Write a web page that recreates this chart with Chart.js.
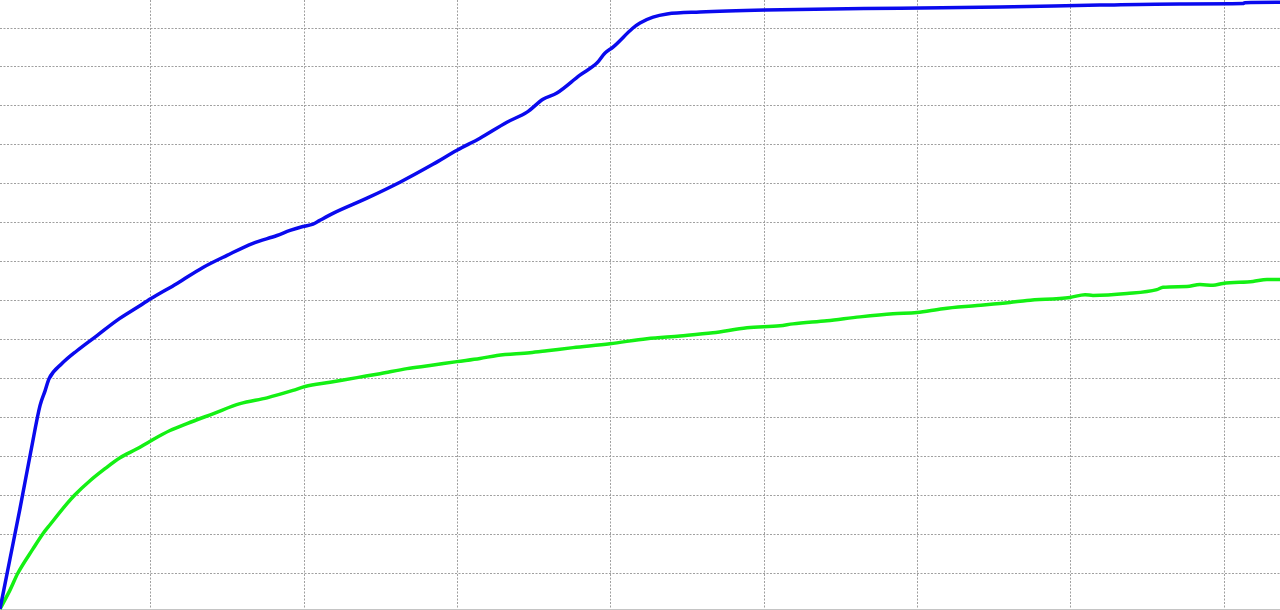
<!DOCTYPE html>
<html>
<head>
<meta charset="utf-8">
<title>Curves</title>
<script src="https://cdn.jsdelivr.net/npm/chart.js@4.4.1/dist/chart.umd.min.js"></script>
<style>
  html, body { margin: 0; padding: 0; background: #fff; }
  #wrap { width: 1280px; height: 610px; position: relative; }
</style>
</head>
<body>
<div id="wrap"><canvas id="chart"></canvas></div>
<script>
// values, one gridline = 10 units on both axes
const blueX = [0.15, 0.8, 1.45, 2.17, 2.76, 3.09, 3.35, 4.19, 5.17, 6.48, 7.78, 9.09, 10.0, 11.7, 13.39, 14.96,
  16.65, 18.22, 19.07, 19.91, 20.57, 21.02, 21.87, 24.09, 26.24, 28.39, 29.96, 31.46, 33.22, 34.53, 35.57,
  36.48, 37.98, 39.09, 39.62, 40.14, 41.44, 41.9, 42.75, 43.66, 45.81, 50.05, 58.86, 65.38, 71.9, 77.12,
  81.23, 81.36, 83.65];
const blueY = [0.75, 13.6, 26.5, 41.4, 53.0, 56.8, 59.9, 63.8, 67.1, 71.0, 74.9, 78.2, 80.5, 84.4, 88.5, 91.6,
  94.7, 96.7, 98.0, 99.0, 99.6, 100.6, 102.4, 106.3, 110.4, 115.0, 118.6, 121.7, 125.8, 128.4, 131.7,
  133.3, 137.9, 141.0, 143.6, 145.1, 150.0, 151.3, 152.8, 153.6, 154.1, 154.6, 155.1, 155.4, 155.9, 156.2,
  156.3, 156.5, 156.6];

const greenX = [0.15, 0.8, 1.32, 2.3, 2.95, 3.41, 4.52, 5.04, 6.02, 7.0, 7.98, 9.09, 10.0, 11.24, 12.35, 14.04,
  15.81, 17.57, 19.26, 20.05, 21.68, 23.44, 24.94, 26.7, 28.2, 29.96, 31.46, 32.57, 34.72, 35.83, 37.53, 39.94,
  42.35, 44.51, 46.66, 48.88, 51.03, 51.88, 54.1, 56.25, 58.4, 59.97, 61.66, 63.88, 66.03, 67.14, 69.95,
  70.93, 71.45, 73.67, 75.62, 76.02, 77.58, 78.43, 79.28, 79.93, 81.88, 82.8, 83.65];
const greenY = [0.75, 5.6, 10.0, 16.2, 20.1, 22.4, 27.8, 30.1, 33.7, 36.8, 39.6, 41.9, 44.0, 46.6, 48.4, 50.9,
  53.5, 55.0, 56.9, 57.9, 59.0, 60.2, 61.2, 62.5, 63.3, 64.3, 65.1, 65.9, 66.6, 67.1, 67.9, 68.9,
  70.2, 70.9, 71.7, 73.0, 73.5, 74.0, 74.8, 75.8, 76.6, 76.9, 77.9, 78.7, 79.5, 80.0, 80.8,
  81.5, 81.3, 81.8, 82.8, 83.4, 83.6, 84.1, 83.9, 84.4, 84.9, 85.4, 85.4];

const xMin = 0.15, xMax = 83.65, yMin = 0.5, yMax = 157.2;

function points(xs, ys) {
  return xs.map((x, i) => ({ x: x, y: ys[i] }));
}

const gridStyle = { color: '#a0a0a0', lineWidth: 1, drawTicks: false };

new Chart(document.getElementById('chart'), {
  type: 'line',
  data: {
    datasets: [
      { label: 'blue', data: points(blueX, blueY), borderColor: '#0a0aee', borderWidth: 3.5, pointRadius: 0, cubicInterpolationMode: 'monotone' },
      { label: 'green', data: points(greenX, greenY), borderColor: '#14f014', borderWidth: 3.5, pointRadius: 0, cubicInterpolationMode: 'monotone' },
    ],
  },
  options: {
    responsive: true,
    maintainAspectRatio: false,
    animation: false,
    layout: { padding: 0 },
    plugins: { legend: { display: false }, tooltip: { enabled: false } },
    scales: {
      x: {
        type: 'linear', min: xMin, max: xMax,
        ticks: { display: false, stepSize: 10, includeBounds: false },
        grid: gridStyle,
        border: { display: true, color: '#c4c4c4', width: 2, dash: [2, 1.5] },
      },
      y: {
        type: 'linear', min: yMin, max: yMax,
        ticks: { display: false, stepSize: 10, includeBounds: false },
        grid: gridStyle,
        border: { display: false, dash: [2, 1.5] },
      },
    },
  },
});
</script>
</body>
</html>
